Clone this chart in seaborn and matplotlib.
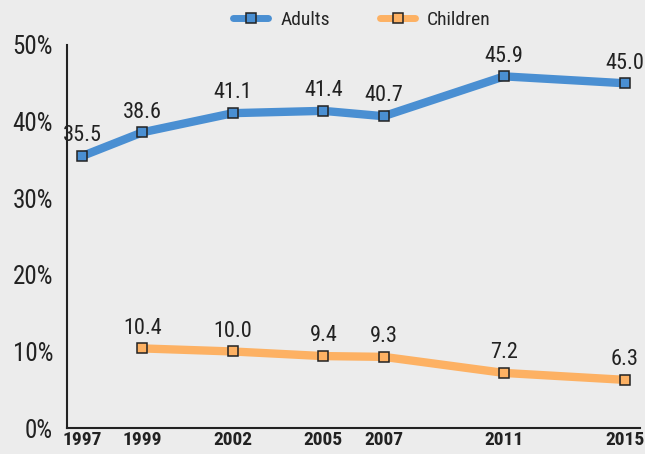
import numpy as np
import pandas as pd
import matplotlib
matplotlib.use("Agg")
import matplotlib.pyplot as plt
from matplotlib import font_manager as fm
from matplotlib.ticker import FixedLocator, FuncFormatter
import seaborn as sns

# dati
years_adults = [1997, 1999, 2002, 2005, 2007, 2011, 2015]
adults = [35.5, 38.6, 41.1, 41.4, 40.7, 45.9, 45.0]
years_children = [1999, 2002, 2005, 2007, 2011, 2015]
children = [10.4, 10.0, 9.4, 9.3, 7.2, 6.3]
series_names = ["Adults", "Children"]
colors = ["#4a8fd2", "#fdb163"]

df = pd.concat([
    pd.DataFrame({"year": years_adults, "value": adults, "group": series_names[0]}),
    pd.DataFrame({"year": years_children, "value": children, "group": series_names[1]}),
])

# font stretta se disponibile
installed = {f.name for f in fm.fontManager.ttflist}
narrow = [n for n in ["Liberation Sans Narrow", "DejaVu Sans Condensed", "Roboto Condensed",
                      "Open Sans Condensed", "Noto Sans Condensed"] if n in installed]

sns.set_style("white")
plt.rcParams["font.family"] = narrow + ["DejaVu Sans"]
stretch = "normal" if narrow else "condensed"
bg = "#ececec"

fig = plt.figure(figsize=(6.45, 4.54), dpi=100, facecolor=bg)
ax = fig.add_axes([0.104, 0.057, 0.888, 0.844], facecolor=bg)

sns.lineplot(data=df, x="year", y="value", hue="group", palette=colors,
             hue_order=series_names, linewidth=6, marker="s", markersize=7,
             markeredgecolor="#222222", markeredgewidth=1.1, ax=ax)

# etichette sopra i punti
for xs, ys in [(years_adults, adults), (years_children, children)]:
    for x, y in zip(xs, ys):
        ax.annotate(f"{y:.1f}", (x, y), xytext=(0, 7), textcoords="offset points",
                    ha="center", va="bottom", fontsize=16, color="#222222")

ax.set_xlim(1996.5, 2015.5)
ax.set_ylim(0, 50)
ax.set_yticks([0, 10, 20, 30, 40, 50])
ax.yaxis.set_major_formatter(FuncFormatter(lambda v, p: f"{int(v)}%"))
ax.tick_params(axis="y", direction="inout", length=16, width=1.2, labelsize=18,
               color="#222222", labelcolor="#222222", pad=2)

ax.xaxis.set_major_locator(FixedLocator(years_adults))
ax.xaxis.set_minor_locator(FixedLocator(np.arange(1997.5, 2015.6, 1)))
ax.tick_params(axis="x", which="major", length=0, labelsize=14, pad=2,
               labelcolor="#222222")
ax.tick_params(axis="x", which="minor", direction="in", length=9, width=1.2,
               color="#222222")
for lab in ax.get_xticklabels():
    lab.set_fontweight("bold")

for s in ["top", "right"]:
    ax.spines[s].set_visible(False)
for s in ["left", "bottom"]:
    ax.spines[s].set_color("#222222")
    ax.spines[s].set_linewidth(1.5)

ax.set_xlabel("")
ax.set_ylabel("")

leg = ax.legend(loc="upper center", bbox_to_anchor=(0.515, 1.135), ncol=2, frameon=False,
                fontsize=14, handlelength=1.8, columnspacing=2.6, handletextpad=0.6)
for h in leg.legend_handles:
    h.set_linewidth(5)

for t in fig.findobj(matplotlib.text.Text):
    t.set_fontstretch(stretch)

for l in ax.lines:
    l.set_clip_on(False)

fig.savefig("out.png", dpi=100, facecolor=bg)
